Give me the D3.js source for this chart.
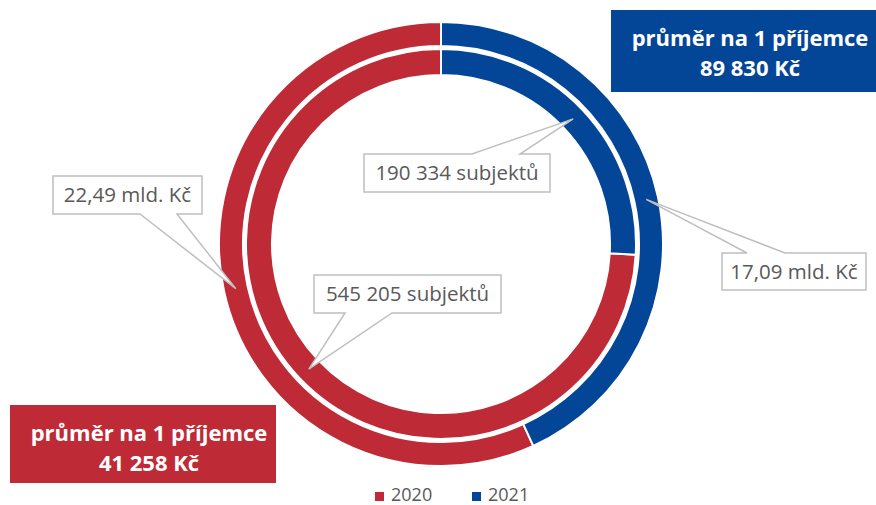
<!DOCTYPE html>
<html>
<head>
<meta charset="utf-8">
<script src="https://cdn.jsdelivr.net/npm/d3@7"></script>
<style>
	body { margin: 0; background: #fff; }
	svg { display: block; font-family: "Open Sans", Lato, sans-serif; }
</style>
</head>
<body>
<svg width="876" height="505"></svg>
<script>
(function () {

	var years = ['2020', '2021'];
	var amounts = [22.49, 17.09];          // mld. Kč (outer ring)
	var subjects = [545205, 190334];       // počet subjektů (inner ring)
	var amountLabels = ['22,49 mld. Kč', '17,09 mld. Kč'];
	var subjectLabels = ['545 205 subjektů', '190 334 subjektů'];
	var averages = ['41 258 Kč', '89 830 Kč'];

	var colors = d3.scaleOrdinal().domain(years).range(['#BE2A36', '#034597']);

	var svg = d3.select('svg');
	var cx = 441, cy = 244;
	var g = svg.append('g').attr('transform', 'translate(' + cx + ',' + cy + ')');

	// 2021 sits first clockwise from 12 o'clock, 2020 fills the rest
	function makePie(values) {
		var share = values[1] / d3.sum(values) * 2 * Math.PI;
		return d3.pie().sort(null).startAngle(share).endAngle(share + 2 * Math.PI)(values);
	}

	var outerArc = d3.arc().innerRadius(198).outerRadius(222);
	var innerArc = d3.arc().innerRadius(169).outerRadius(195);

	var outer = makePie(amounts);
	var inner = makePie(subjects);

	g.selectAll('path.outer')
		.data(outer)
		.enter().append('path')
		.attr('class', 'outer')
		.attr('d', outerArc)
		.attr('fill', function (d, i) { return colors(years[i]); })
		.attr('stroke', '#fff')
		.attr('stroke-width', 2);

	g.selectAll('path.inner')
		.data(inner)
		.enter().append('path')
		.attr('class', 'inner')
		.attr('d', innerArc)
		.attr('fill', function (d, i) { return colors(years[i]); })
		.attr('stroke', '#fff')
		.attr('stroke-width', 2);

	// callout boxes: box rect + base of pointer (side, from, to)
	var callouts = [
		{arc: outerArc, d: outer[0], text: amountLabels[0], box: [53, 176, 149, 38], side: 'bottom', base: [140, 177]},
		{arc: outerArc, d: outer[1], text: amountLabels[1], box: [722, 253, 144, 37], side: 'top', base: [747, 785]},
		{arc: innerArc, d: inner[0], text: subjectLabels[0], box: [314, 275, 187, 38], side: 'bottom', base: [345, 392]},
		{arc: innerArc, d: inner[1], text: subjectLabels[1], box: [364, 154, 186, 38], side: 'top', base: [472, 520]}
	];

	callouts.forEach(function (c) {
		var tip = c.arc.centroid(c.d);
		var tx = tip[0] + cx, ty = tip[1] + cy;
		var b = c.box;
		var y = c.side === 'top' ? b[1] : b[1] + b[3];
		var pts;
		if (c.side === 'top') {
			pts = [[b[0], b[1] + b[3]], [b[0], b[1]], [c.base[0], y], [tx, ty], [c.base[1], y],
				[b[0] + b[2], b[1]], [b[0] + b[2], b[1] + b[3]]];
		} else {
			pts = [[b[0], b[1]], [b[0] + b[2], b[1]], [b[0] + b[2], y], [c.base[1], y], [tx, ty],
				[c.base[0], y], [b[0], y]];
		}
		svg.append('path')
			.attr('d', d3.line()(pts) + 'Z')
			.attr('fill', '#fff')
			.attr('stroke', '#BFBFBF')
			.attr('stroke-width', 1.5);
		svg.append('text')
			.attr('x', b[0] + b[2] / 2)
			.attr('y', b[1] + b[3] / 2 + 7)
			.attr('text-anchor', 'middle')
			.attr('font-size', 20.5)
			.attr('fill', '#595959')
			.text(c.text);
	});

	// average boxes
	var avgBoxes = [
		{year: '2020', box: [10, 405, 266, 78]},
		{year: '2021', box: [611, 10, 265, 82]}
	];
	avgBoxes.forEach(function (a) {
		var i = years.indexOf(a.year);
		var b = a.box;
		svg.append('rect')
			.attr('x', b[0]).attr('y', b[1])
			.attr('width', b[2]).attr('height', b[3])
			.attr('fill', colors(a.year));
		var t = svg.append('text')
			.attr('text-anchor', 'middle')
			.attr('font-size', 22)
			.attr('font-weight', 'bold')
			.attr('fill', '#fff');
		t.append('tspan').attr('x', b[0] + 139).attr('y', b[1] + 36).text('průměr na 1 příjemce');
		t.append('tspan').attr('x', b[0] + 139).attr('y', b[1] + 66).text(averages[i]);
	});

	// legend
	var legend = svg.append('g').attr('transform', 'translate(375,501)');
	var items = legend.selectAll('g')
		.data(years)
		.enter().append('g')
		.attr('transform', function (d, i) { return 'translate(' + (i * 97) + ',0)'; });
	items.append('rect')
		.attr('x', 0).attr('y', -9)
		.attr('width', 9).attr('height', 9)
		.attr('fill', function (d) { return colors(d); });
	items.append('text')
		.attr('x', 16).attr('y', 0)
		.attr('font-size', 18)
		.attr('fill', '#595959')
		.text(function (d) { return d; });

})();
</script>
</body>
</html>
